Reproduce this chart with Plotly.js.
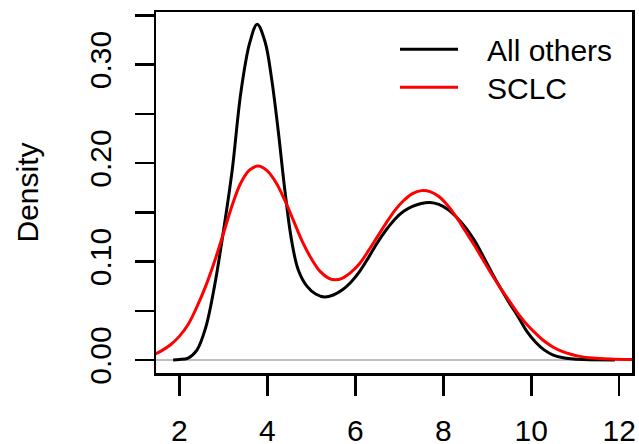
<!DOCTYPE html>
<html>
<head>
<meta charset="utf-8">
<script src="https://cdn.plot.ly/plotly-3.0.1.min.js"></script>
<style>html,body{margin:0;padding:0;background:#fff}#chart{width:639px;height:444px}</style>
</head>
<body>
<div id="chart"></div>
<script>
// Density estimate: "All others"
const othersX = [1.86, 2.0, 2.2, 2.4, 2.6, 2.8, 3.0, 3.2, 3.4, 3.6, 3.77, 3.95, 4.1, 4.25, 4.4, 4.55, 4.7, 4.9, 5.1, 5.3, 5.5, 5.7, 5.9, 6.1, 6.3, 6.5, 6.7, 6.9, 7.1, 7.3, 7.5, 7.7, 7.9, 8.1, 8.3, 8.5, 8.7, 8.9, 9.1, 9.3, 9.5, 9.7, 9.9, 10.1, 10.3, 10.5, 10.7, 10.9, 11.2, 11.9];
const othersY = [0.0, 0.0005, 0.002, 0.010, 0.033, 0.075, 0.130, 0.192, 0.272, 0.322, 0.341, 0.323, 0.285, 0.232, 0.172, 0.122, 0.092, 0.075, 0.067, 0.064, 0.066, 0.071, 0.079, 0.090, 0.104, 0.119, 0.132, 0.143, 0.151, 0.156, 0.159, 0.160, 0.158, 0.153, 0.145, 0.135, 0.122, 0.106, 0.089, 0.073, 0.058, 0.044, 0.029, 0.018, 0.010, 0.005, 0.0025, 0.0012, 0.0004, 0.0];
// Density estimate: "SCLC"
const sclcX = [1.45, 1.6, 1.8, 2.0, 2.2, 2.4, 2.6, 2.8, 3.0, 3.2, 3.4, 3.6, 3.8, 4.0, 4.2, 4.4, 4.6, 4.8, 5.0, 5.2, 5.4, 5.55, 5.7, 5.9, 6.1, 6.3, 6.5, 6.7, 6.9, 7.1, 7.3, 7.5, 7.7, 7.9, 8.1, 8.3, 8.5, 8.7, 8.9, 9.1, 9.3, 9.5, 9.7, 9.9, 10.1, 10.3, 10.5, 10.7, 10.9, 11.1, 11.4, 11.8, 12.3];
const sclcY = [0.0061, 0.0095, 0.0155, 0.024, 0.036, 0.054, 0.075, 0.100, 0.128, 0.157, 0.180, 0.193, 0.197, 0.192, 0.180, 0.162, 0.141, 0.120, 0.103, 0.090, 0.083, 0.0815, 0.083, 0.089, 0.098, 0.111, 0.125, 0.139, 0.152, 0.162, 0.169, 0.172, 0.171, 0.166, 0.157, 0.145, 0.131, 0.117, 0.102, 0.087, 0.073, 0.060, 0.047, 0.036, 0.027, 0.019, 0.013, 0.0088, 0.0058, 0.0037, 0.0020, 0.0010, 0.0004];

const seriesNames = ["All others", "SCLC"];
const seriesColors = ["#000000", "#ff0000"];
const yTickVals = [0, 0.05, 0.10, 0.15, 0.20, 0.25, 0.30, 0.35];
const yTickText = ["0.00", "", "0.10", "", "0.20", "", "0.30", ""];
const xTickVals = [2, 4, 6, 8, 10, 12];
const yTitle = "Density";

const FONT = "Liberation Sans, Arial, Helvetica, sans-serif";
const FS = 30;

const traces = [
  {x: othersX, y: othersY, name: seriesNames[0], mode: "lines", line: {color: seriesColors[0], width: 3, shape: "spline", smoothing: 1}, showlegend: false},
  {x: sclcX, y: sclcY, name: seriesNames[1], mode: "lines", line: {color: seriesColors[1], width: 3, shape: "spline", smoothing: 1}, showlegend: false}
];

const W = 639, H = 444;
const L = 156, R = 7, T = 12, B = 71;
const pw = W - L - R, ph = H - T - B;
const px = v => (v - L) / pw;
const py = v => (H - B - v) / ph;

const legendShapes = seriesColors.map((c, i) => ({
  type: "line", xref: "paper", yref: "paper",
  x0: px(400), x1: px(458), y0: py(49.3 + 38 * i), y1: py(49.3 + 38 * i),
  line: {color: c, width: 3}
}));
const legendAnn = seriesNames.map((n, i) => ({
  xref: "paper", yref: "paper", x: px(485), y: py(50 + 38 * i),
  xanchor: "left", yanchor: "middle", text: n, showarrow: false,
  font: {family: FONT, size: FS, color: "#000"}
}));

const layout = {
  width: W, height: H,
  margin: {l: L, r: R, t: T, b: B, pad: 0},
  paper_bgcolor: "#fff", plot_bgcolor: "#fff",
  font: {family: FONT, size: FS, color: "#000"},
  showlegend: false,
  xaxis: {
    range: [1.47, 12.29], tickvals: xTickVals, ticktext: xTickVals.map(String),
    ticks: "outside", ticklen: 20, tickwidth: 2.5, tickcolor: "#000",
    showline: true, mirror: true, linewidth: 2.5, linecolor: "#000",
    showgrid: false, zeroline: false, ticklabelstandoff: 9,
    tickfont: {family: FONT, size: FS, color: "#000"}
  },
  yaxis: {
    range: [-0.0132, 0.3534], tickvals: yTickVals, ticktext: yTickText,
    ticks: "outside", ticklen: 19, tickwidth: 2.5, tickcolor: "#000",
    tickangle: -90, ticklabelstandoff: 12,
    showline: true, mirror: true, linewidth: 2.5, linecolor: "#000",
    showgrid: false, zeroline: true, zerolinecolor: "#bebebe", zerolinewidth: 1.2,
    tickfont: {family: FONT, size: FS, color: "#000"}
  },
  shapes: legendShapes,
  annotations: legendAnn.concat([{
    xref: "paper", yref: "paper", x: px(27), y: 0.5, xanchor: "center", yanchor: "middle",
    text: yTitle, textangle: -90, showarrow: false,
    font: {family: FONT, size: FS, color: "#000"}
  }])
};

Plotly.newPlot("chart", traces, layout, {staticPlot: true, displayModeBar: false});
</script>
</body>
</html>
